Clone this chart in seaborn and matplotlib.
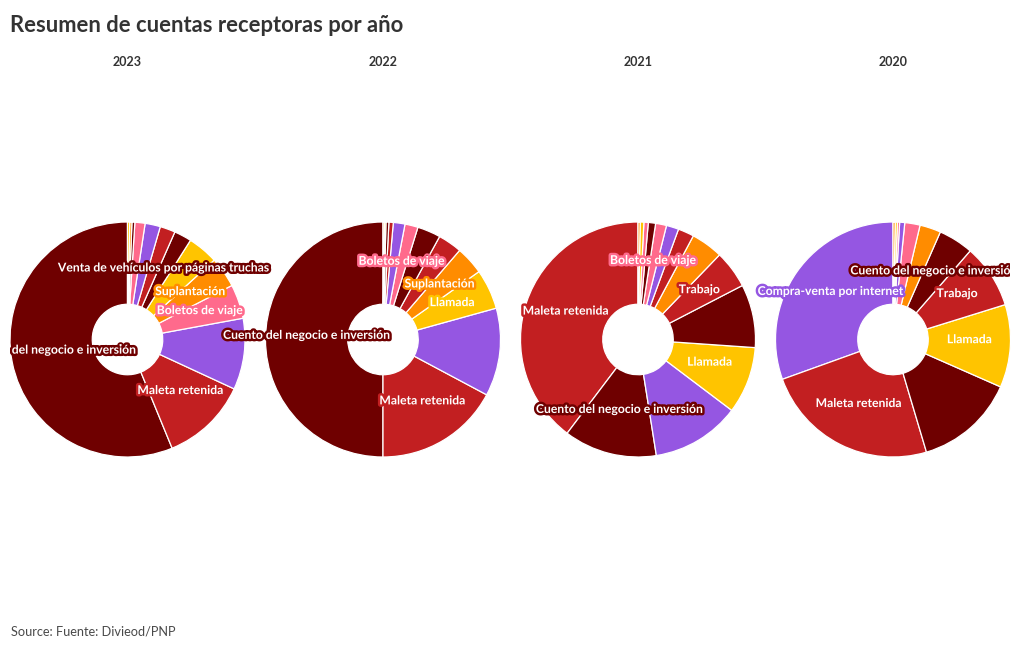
import matplotlib
matplotlib.use("Agg")
import matplotlib.pyplot as plt
import matplotlib.patheffects as pe
from matplotlib.transforms import Bbox
import numpy as np
import seaborn as sns

# ---------------- data ----------------
TITLE = "Resumen de cuentas receptoras por año"
SOURCE = "Source: Fuente: Divieod/PNP"

CUENTO = "Cuento del negocio e inversión"
MALETA = "Maleta retenida"
COMPRA = "Compra-venta por internet"
LLAMADA = "Llamada"
SUPLANT = "Suplantación"
BOLETOS = "Boletos de viaje"
VENTA = "Venta de vehículos por páginas truchas"
TRABAJO = "Trabajo"
ALQUILER = "Alquiler de inmuebles"
PREMIOS = "Premios y sorteos"
PRESTAMOS = "Préstamos"
MASCOTAS = "Venta de mascotas"
FALSO = "Falso familiar"
OTROS = "Otros"

categories = [CUENTO, MALETA, COMPRA, LLAMADA, SUPLANT, BOLETOS, VENTA,
              TRABAJO, ALQUILER, PREMIOS, PRESTAMOS, MASCOTAS, FALSO, OTROS]
base_colors = ["#6f0000", "#c21f21", "#9556e2", "#ffc400", "#ff8c00", "#ff6a8c"]

years = ["2023", "2022", "2021", "2020"]

cats_2023 = [CUENTO, MALETA, COMPRA, BOLETOS, SUPLANT, LLAMADA, VENTA, TRABAJO,
             ALQUILER, MASCOTAS, FALSO, PRESTAMOS, PREMIOS]
vals_2023 = [56.2, 11.9, 9.8, 4.7, 4.2, 4.2, 2.4, 2.1, 2.1, 1.4, 0.4, 0.3, 0.3]
labels_2023 = [CUENTO, MALETA, VENTA, SUPLANT, BOLETOS]

cats_2022 = [CUENTO, MALETA, COMPRA, LLAMADA, SUPLANT, TRABAJO, VENTA, BOLETOS,
             ALQUILER, OTROS, FALSO, PREMIOS, PRESTAMOS]
vals_2022 = [50.0, 17.2, 12.1, 5.5, 3.9, 3.3, 3.2, 1.8, 1.6, 0.6, 0.4, 0.2, 0.2]
labels_2022 = [CUENTO, MALETA, BOLETOS, SUPLANT, LLAMADA]

cats_2021 = [MALETA, CUENTO, COMPRA, LLAMADA, VENTA, TRABAJO, SUPLANT, OTROS,
             ALQUILER, BOLETOS, FALSO, MASCOTAS, PREMIOS, PRESTAMOS]
vals_2021 = [39.7, 12.8, 12.2, 9.2, 8.7, 5.2, 4.4, 2.2, 1.7, 1.5, 1.0, 0.6, 0.5, 0.3]
labels_2021 = [MALETA, CUENTO, LLAMADA, TRABAJO, BOLETOS]

cats_2020 = [COMPRA, MALETA, VENTA, LLAMADA, TRABAJO, CUENTO, SUPLANT, BOLETOS,
             ALQUILER, MASCOTAS, PREMIOS, PRESTAMOS]
vals_2020 = [30.5, 24.1, 13.8, 11.4, 8.8, 4.8, 2.9, 2.1, 0.7, 0.3, 0.3, 0.3]
labels_2020 = [COMPRA, MALETA, LLAMADA, TRABAJO, CUENTO]

year_cats = [cats_2023, cats_2022, cats_2021, cats_2020]
year_vals = [vals_2023, vals_2022, vals_2021, vals_2020]
year_labels = [labels_2023, labels_2022, labels_2021, labels_2020]

# ---------------- style ----------------
sns.set_theme(style="white")
FONT = "Lato"
plt.rcParams["font.family"] = [FONT, "DejaVu Sans"]
palette = sns.color_palette(base_colors)
color_of = {c: palette[i % len(palette)] for i, c in enumerate(categories)}

W, H, DPI = 1020, 650, 100
fig = plt.figure(figsize=(W / DPI, H / DPI), dpi=DPI)
fig.patch.set_facecolor("white")
renderer = fig.canvas.get_renderer()


def fit_size(txt, target_px, weight="bold", base=12.0):
    t = fig.text(0, 0, txt, fontsize=base, fontweight=weight)
    w = t.get_window_extent(renderer).width
    t.remove()
    return base * target_px / w


title_fs = fit_size(TITLE, 390)
label_fs = fit_size(CUENTO, 166)
year_fs = fit_size("2023", 29)
src_fs = fit_size(SOURCE, 166, weight="normal")

fig.text(10 / W, 1 - 32 / H, TITLE, fontsize=title_fs, fontweight="bold",
         color="#333333", ha="left", va="baseline")
fig.text(11 / W, 1 - 636 / H, SOURCE, fontsize=src_fs, color="#4a4a4a",
         ha="left", va="baseline")

# pie geometry (pixels)
R = 117.5
centers_x = [127.5, 383.0, 638.0, 893.0]
center_y = 339.5
hole = 0.30
clip_box = Bbox.from_extents(10, 0, 1010, H)

for k, year in enumerate(years):
    cx = centers_x[k]
    ax = fig.add_axes([(cx - R) / W, (H - center_y - R) / H, 2 * R / W, 2 * R / H])
    cats = year_cats[k]
    vals = year_vals[k]
    cols = [color_of[c] for c in cats]
    wedges, _ = ax.pie(vals, colors=cols, startangle=90, counterclock=True,
                       radius=1.0,
                       wedgeprops=dict(width=1 - hole, edgecolor="white", linewidth=0.9))
    ax.set_xlim(-1, 1)
    ax.set_ylim(-1, 1)
    ax.set_aspect("equal")
    ax.axis("off")
    fig.text(cx / W, 1 - 66 / H, year, fontsize=year_fs, fontweight="bold",
             color="#333333", ha="center", va="baseline")
    rl = (1 + hole) / 2
    for cat in year_labels[k]:
        w = wedges[cats.index(cat)]
        mid = np.deg2rad((w.theta1 + w.theta2) / 2)
        t = ax.text(rl * np.cos(mid), rl * np.sin(mid) + 0.035, cat,
                    fontsize=label_fs, fontweight="bold", color="white",
                    ha="center", va="center", zorder=10,
                    path_effects=[pe.withStroke(linewidth=3.5, foreground=color_of[cat])])
        t.set_clip_on(True)
        t.set_clip_box(clip_box)

fig.savefig("out.png", dpi=DPI, facecolor="white")
